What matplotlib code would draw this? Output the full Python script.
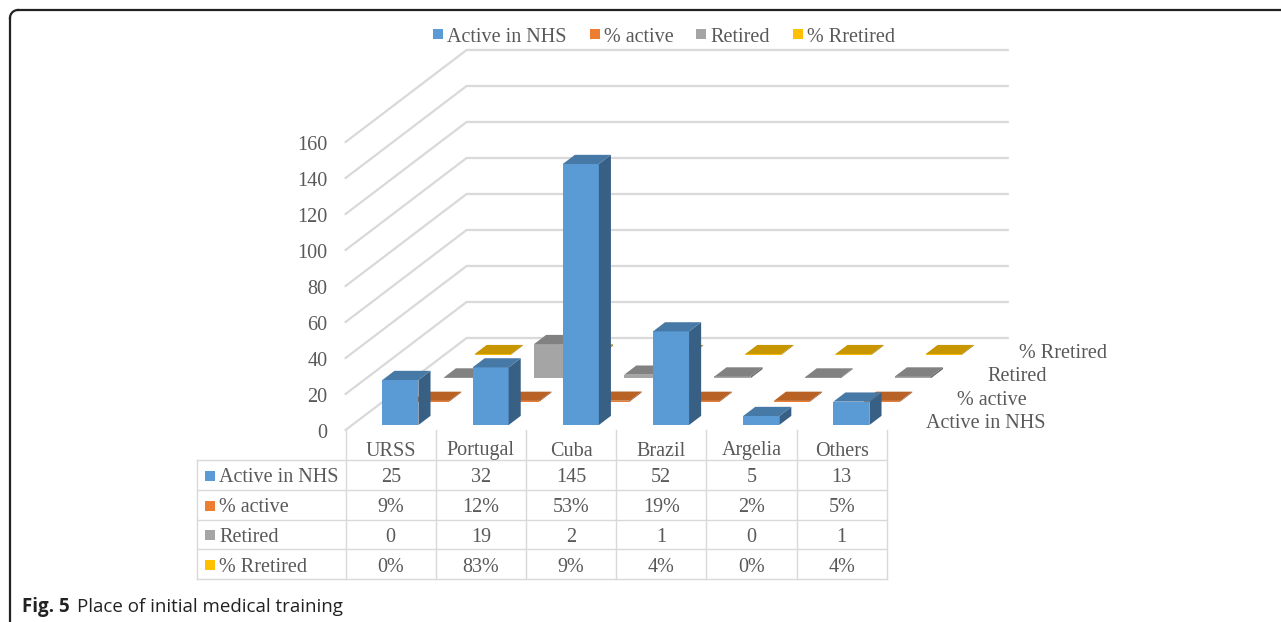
import numpy as np
import matplotlib.pyplot as plt
from matplotlib.patches import Polygon, Rectangle
from matplotlib.colors import to_rgb

# data
categories = ["URSS", "Portugal", "Cuba", "Brazil", "Argelia", "Others"]
series_names = ["Active in NHS", "% active", "Retired", "% Rretired"]
active = [25, 32, 145, 52, 5, 13]
pct_active = [9, 12, 53, 19, 2, 5]
retired = [0, 19, 2, 1, 0, 1]
pct_retired = [0, 83, 9, 4, 0, 4]
y_ticks = [0, 20, 40, 60, 80, 100, 120, 140, 160]

colors = ["#5B9BD5", "#ED7D31", "#A5A5A5", "#FFC000"]
text_col = "#595959"
grid_col = "#D9D9D9"
serif = "Liberation Serif"
fs = 14.5
dyt = 3  # text sits a bit lower than its box centre

# plotted values (percentages are plotted as fractions, so they are flat)
plot_vals = [active,
             [p / 100 for p in pct_active],
             retired,
             [p / 100 for p in pct_retired]]
table_vals = [[str(v) for v in active],
              [f"{p}%" for p in pct_active],
              [str(v) for v in retired],
              [f"{p}%" for p in pct_retired]]

# oblique projection of the 3D chart onto pixel coordinates
X0, Y0 = 345.6, 430.0      # front-left corner of floor
CAT_W = 90.2               # width of one category on the floor
DEPTH_DX, DEPTH_DY = 121.0, 92.0
PX_PER_UNIT = 1.8


def proj(x, z, v):
    return (X0 + CAT_W * x + DEPTH_DX * z, Y0 - PX_PER_UNIT * v - DEPTH_DY * z)


def shade(c, f):
    r, g, b = to_rgb(c)
    return (r * f, g * f, b * f)


fig = plt.figure(figsize=(12.81, 6.22), dpi=100)
ax = fig.add_axes([0, 0, 1, 1])
ax.set_xlim(0, 1281)
ax.set_ylim(622, 0)
ax.axis("off")

# page frame (left and top, rounded corner)
r = 8
ax.plot([10, 10], [621, 10 + r], color="#222222", lw=1.6)
ax.plot([10 + r, 1281], [10, 10], color="#222222", lw=1.6)
t = np.linspace(np.pi, 1.5 * np.pi, 20)
ax.plot(10 + r + r * np.cos(t), 10 + r + r * np.sin(t), color="#222222", lw=1.6)

# gridlines on side wall and back wall
n_cat = len(categories)
for v in y_ticks:
    xa, ya = proj(0, 0, v)
    xb, yb = proj(0, 1, v)
    xc, yc = proj(n_cat, 1, v)
    ax.plot([xa, xb, xc], [ya, yb, yc], color=grid_col, lw=1.6, zorder=1,
            solid_joinstyle="miter")
    ax.text(xa - 18, ya + dyt, str(v), ha="right", va="center", fontsize=fs,
            family=serif, color=text_col)

# bars, back row first
BAR_X0, BAR_W = 0.335, 0.40
BAR_D = 0.10
z_rows = [0.054 + 0.254 * i for i in range(4)]
zo = 2
for s in range(3, -1, -1):
    z0 = z_rows[s]
    for i, v in enumerate(plot_vals[s]):
        x0 = i + BAR_X0
        x1 = x0 + BAR_W
        h = max(v, 0.8 / PX_PER_UNIT)
        fbl = proj(x0, z0, 0)
        fbr = proj(x1, z0, 0)
        ftl = proj(x0, z0, h)
        ftr = proj(x1, z0, h)
        btl = proj(x0, z0 + BAR_D, h)
        btr = proj(x1, z0 + BAR_D, h)
        bbr = proj(x1, z0 + BAR_D, 0)
        front = Polygon([fbl, fbr, ftr, ftl], closed=True,
                        facecolor=colors[s], edgecolor="none", zorder=zo)
        side = Polygon([fbr, ftr, btr, bbr], closed=True,
                       facecolor=shade(colors[s], 0.62), edgecolor="none", zorder=zo)
        top = Polygon([ftl, ftr, btr, btl], closed=True,
                      facecolor=shade(colors[s], 0.78), edgecolor="none", zorder=zo)
        ax.add_patch(front)
        ax.add_patch(side)
        ax.add_patch(top)
        zo += 1

# depth axis labels
for s in range(4):
    xl, yl = proj(n_cat, z_rows[s] + BAR_D / 2, 0)
    ax.text(xl + 27, yl + dyt, series_names[s], ha="left", va="center", fontsize=fs,
            family=serif, color=text_col)

# data table
col_x = [X0 + CAT_W * i for i in range(n_cat + 1)]
row_y = [460, 489.5, 519.5, 549, 579]
tab_left = 197
lw_t = 1.0
for xv in col_x:
    ax.plot([xv, xv], [430, row_y[-1]], color=grid_col, lw=lw_t, zorder=1)
ax.plot([tab_left, tab_left], [row_y[0], row_y[-1]], color=grid_col, lw=lw_t)
for yv in row_y:
    ax.plot([tab_left, col_x[-1]], [yv, yv], color=grid_col, lw=lw_t)
for i, c in enumerate(categories):
    ax.text((col_x[i] + col_x[i + 1]) / 2, 448 + dyt, c, ha="center", va="center",
            fontsize=fs, family=serif, color=text_col)
for s in range(4):
    yc = (row_y[s] + row_y[s + 1]) / 2
    ax.add_patch(Rectangle((205, yc - 4), 10, 10, facecolor=colors[s], edgecolor="none"))
    ax.text(219, yc + dyt, series_names[s], ha="left", va="center", fontsize=fs,
            family=serif, color=text_col)
    for i in range(n_cat):
        ax.text((col_x[i] + col_x[i + 1]) / 2, yc + dyt, table_vals[s][i], ha="center",
                va="center", fontsize=fs, family=serif, color=text_col)

# legend at top
leg_x = [433, 590, 696, 793]
for s in range(4):
    ax.add_patch(Rectangle((leg_x[s], 29), 10, 10, facecolor=colors[s], edgecolor="none"))
    ax.text(leg_x[s] + 14, 34 + dyt, series_names[s], ha="left", va="center", fontsize=fs,
            family=serif, color=text_col)

# caption
fig.canvas.draw()
t1 = ax.text(22, 607, "Fig. 5", ha="left", va="center", fontsize=13.5,
             family="Open Sans", weight="bold", color="#222222")
bb = t1.get_window_extent(renderer=fig.canvas.get_renderer())
ax.text(bb.x1 + 7, 607, "Place of initial medical training", ha="left", va="center",
        fontsize=13.5, family="Open Sans", color="#222222")

fig.savefig("out.png", dpi=100)
